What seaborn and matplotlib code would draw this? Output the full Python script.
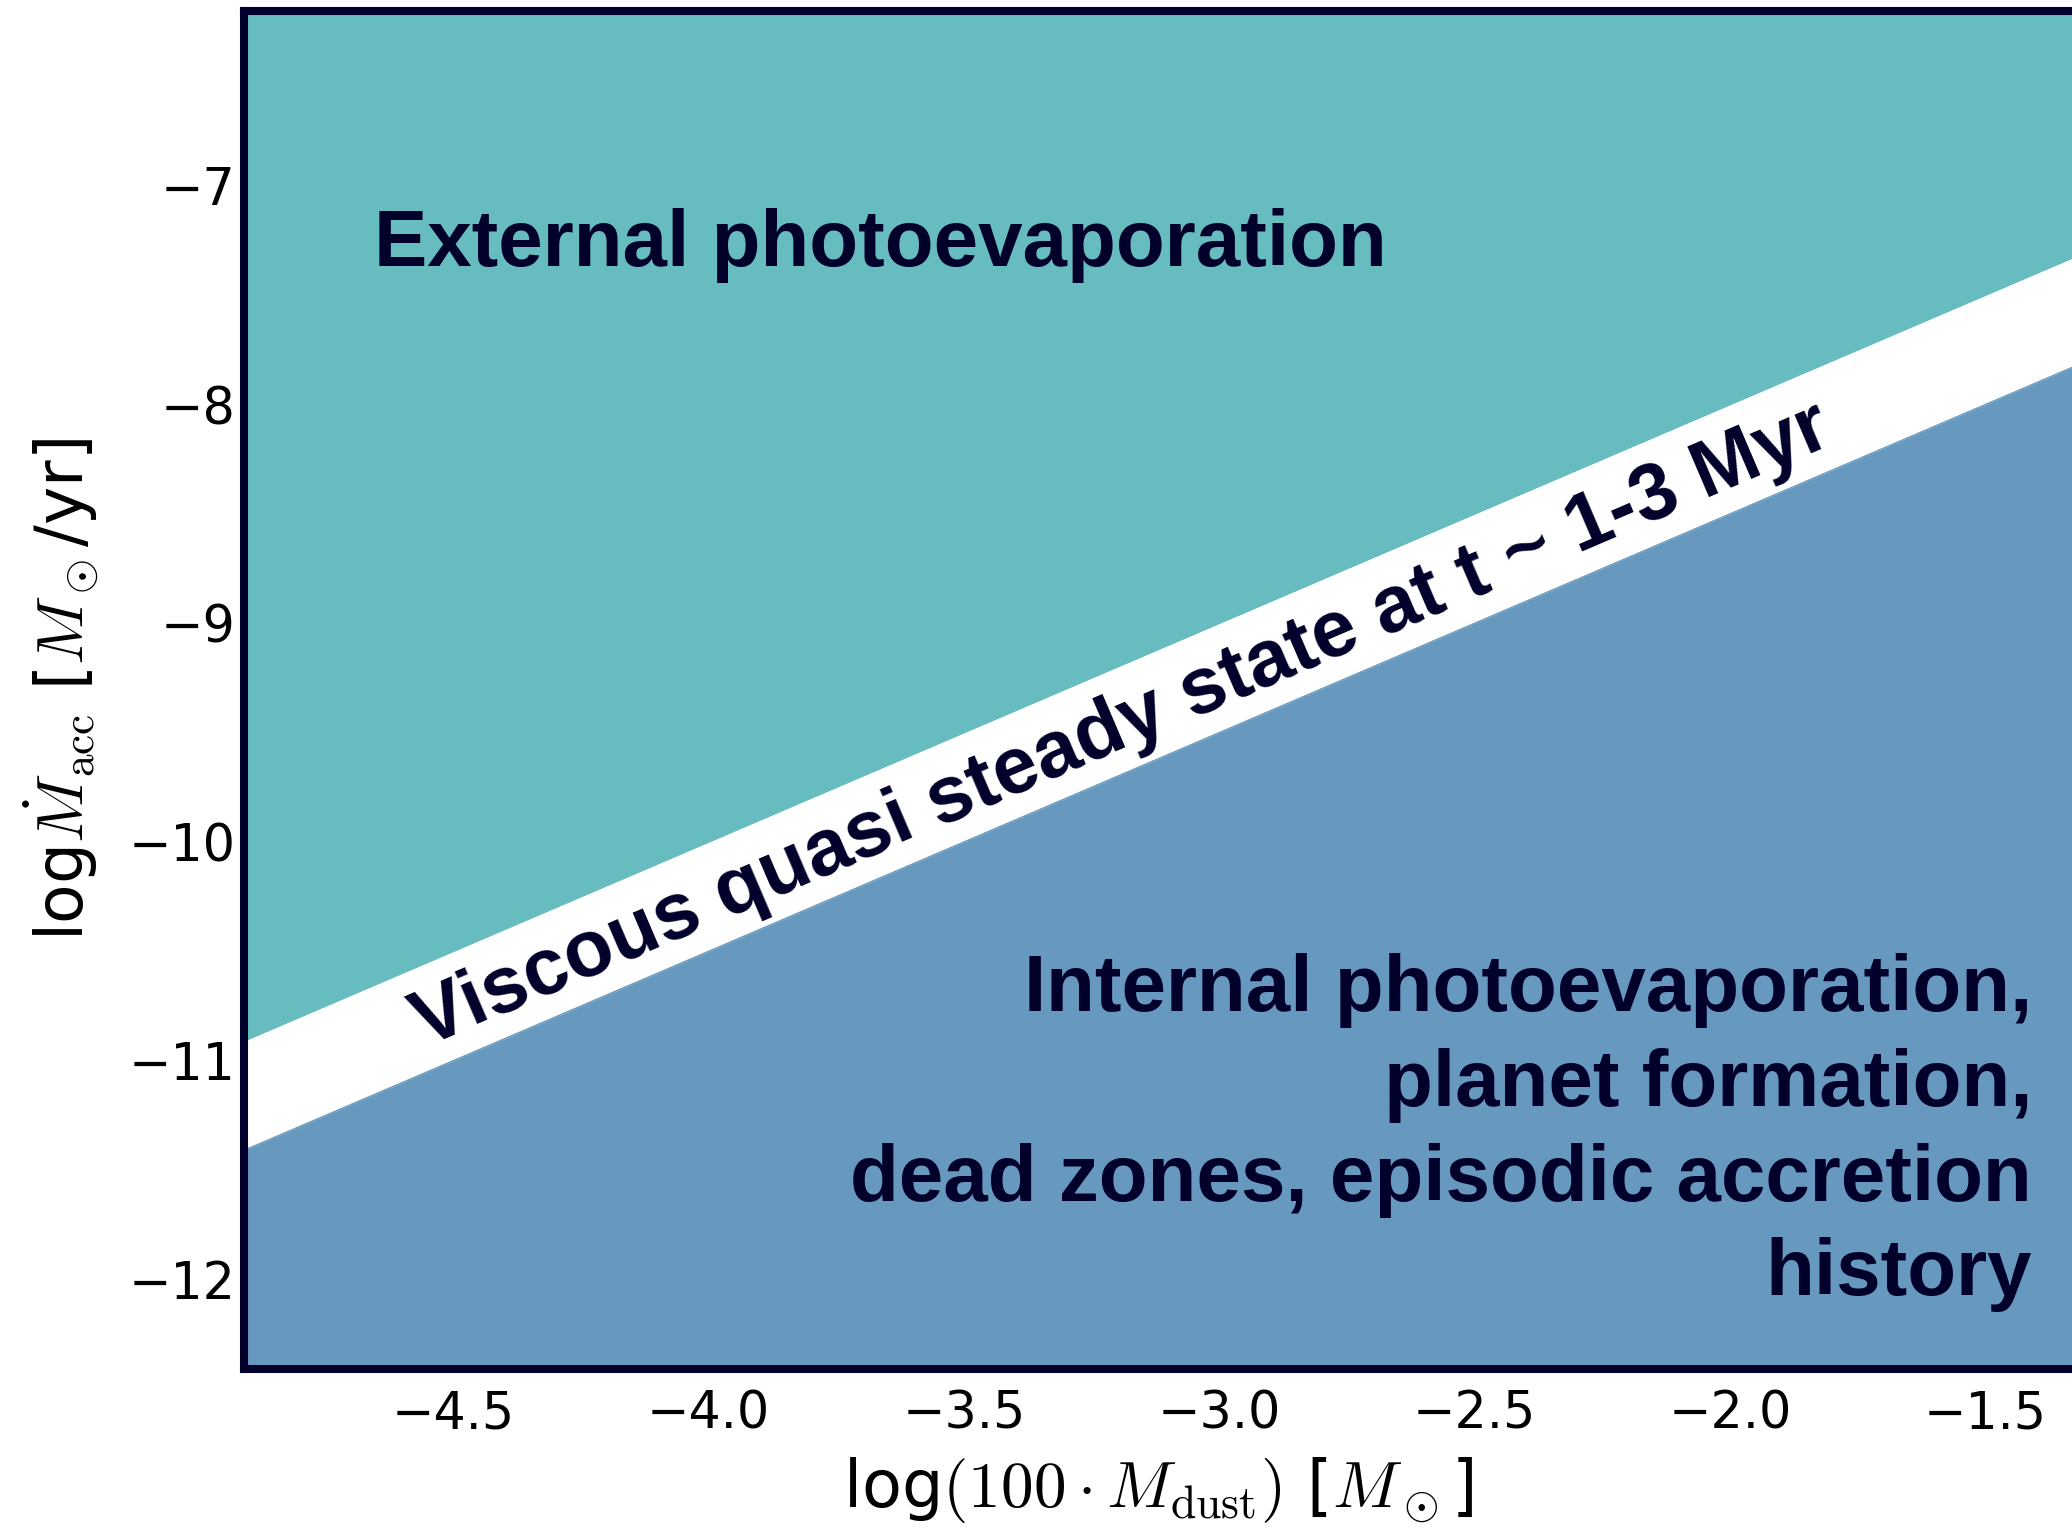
import matplotlib
matplotlib.use("Agg")
import matplotlib.pyplot as plt
import seaborn as sns

# log(100 * M_dust) range spanned by the diagram
log_mdisk = [-4.91, -1.33]
# accretion rate at which M_disk / M_acc = 1 Myr and 3 Myr
log_macc_1myr = [-10.91, -7.33]
log_macc_3myr = [-11.41, -7.83]

x_limits = (-4.91, -1.33)
y_limits = (-12.41, -6.20)
x_ticks = [-4.5, -4.0, -3.5, -3.0, -2.5, -2.0, -1.5]
y_ticks = [-12, -11, -10, -9, -8, -7]

label_upper = "External photoevaporation"
label_band = "Viscous quasi steady state at t ~ 1-3 Myr"
label_lower = ("Internal photoevaporation,\nplanet formation,\n"
               "dead zones, episodic accretion\nhistory")

teal = "#66bcbe"
steel = "#6799be"
ink = "#00002a"

sns.set_theme(style="white")
plt.rcParams["font.family"] = ["DejaVu Sans"]
plt.rcParams["mathtext.fontset"] = "cm"
plt.rcParams["axes.labelcolor"] = "black"

fig = plt.figure(figsize=(20.72, 15.29), dpi=100)
ax = fig.add_axes([244 / 2072, 1 - 1369 / 1529, 1 - 244 / 2072, (1369 - 11) / 1529])

# regions above and below the viscous band
ax.fill_between(log_mdisk, log_macc_1myr, y_limits[1], color=teal, linewidth=0)
ax.fill_between(log_mdisk, y_limits[0], log_macc_3myr, color=steel, linewidth=0)
sns.lineplot(x=log_mdisk, y=log_macc_1myr, ax=ax, color=teal, linewidth=1)
sns.lineplot(x=log_mdisk, y=log_macc_3myr, ax=ax, color=steel, linewidth=1)

ax.set_xlim(*x_limits)
ax.set_ylim(*y_limits)
ax.set_xticks(x_ticks)
ax.set_yticks(y_ticks)
ax.set_xticklabels([f"{v:.1f}".replace("-", "\u2212") for v in x_ticks])
ax.set_yticklabels([f"{v:d}".replace("-", "\u2212") for v in y_ticks])
ax.tick_params(axis="both", length=0, labelsize=36.5, colors="black")
ax.tick_params(axis="x", pad=15)
ax.tick_params(axis="y", pad=6)

for side in ("left", "top", "bottom"):
    ax.spines[side].set_color(ink)
    ax.spines[side].set_linewidth(5.8)
ax.spines["right"].set_visible(False)

ax.set_xlabel(r"log$(100\cdot M_{\rm dust})$ [$M_\odot$]", fontsize=47,
              labelpad=11, color="black")
ax.set_ylabel(r"log$\dot{M}_{\rm acc}$ [$M_\odot$/yr]", fontsize=46.5,
              labelpad=20, color="black")

text_kw = dict(family=["Liberation Sans", "DejaVu Sans"], fontweight="bold",
               fontsize=57.5, color=ink)
ax.text(-4.655, -7.366, label_upper, ha="left", va="baseline", **text_kw)
ax.text(-3.19, -9.47, label_band, ha="center", va="center",
        rotation=23.2, rotation_mode="anchor", **text_kw)
ax.text(-1.408, -11.33, label_lower, ha="right", va="center",
        multialignment="right", linespacing=1.34, **text_kw)

fig.savefig("out.png", dpi=100)
